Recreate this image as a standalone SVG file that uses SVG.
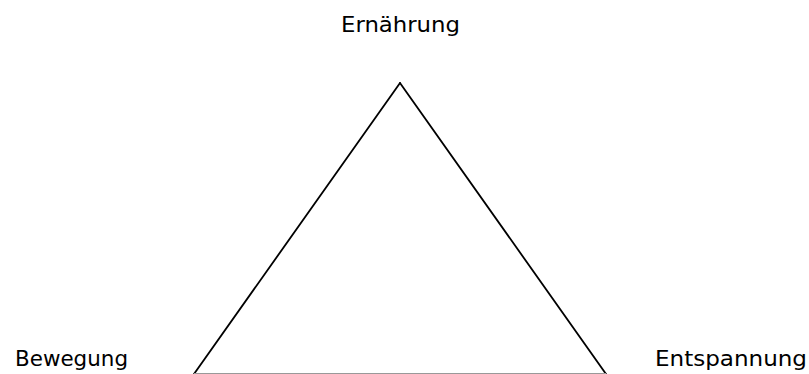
<svg xmlns="http://www.w3.org/2000/svg" width="809" height="374" viewBox="0 0 809 374">
<style>
.lbl{font-family:"DejaVu Sans",Verdana,sans-serif;font-size:21px;fill:#000}
.edge{stroke:#000;stroke-width:1.8;fill:none;stroke-linecap:round}
</style>
<rect width="809" height="374" fill="#fff"/>
<g id="connectors">
<line class="edge" x1="400" y1="83" x2="194" y2="374"/>
<line class="edge" x1="400" y1="83" x2="606" y2="374"/>
<line x1="194" y1="373.5" x2="606" y2="373.5" stroke="#999" stroke-width="1"/>
</g>
<g id="ernaehrung"><text class="lbl" x="341" y="32" textLength="119" lengthAdjust="spacingAndGlyphs">Ernährung</text></g>
<g id="bewegung"><text class="lbl" x="15" y="366" textLength="113" lengthAdjust="spacingAndGlyphs">Bewegung</text></g>
<g id="entspannung"><text class="lbl" x="655" y="366" textLength="152" lengthAdjust="spacingAndGlyphs">Entspannung</text></g>
</svg>
